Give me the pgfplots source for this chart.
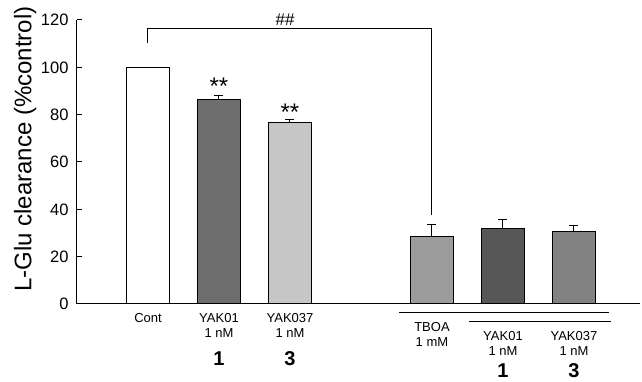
\documentclass[border=0pt]{standalone}
\usepackage{fontspec}
\setmainfont{Liberation Sans}
\usepackage{pgfplots}
\usetikzlibrary{calc}
\pgfplotsset{compat=1.18}
\definecolor{cA}{HTML}{FFFFFF}
\definecolor{cB}{HTML}{6E6E6E}
\definecolor{cC}{HTML}{C6C6C6}
\definecolor{cD}{HTML}{9C9C9C}
\definecolor{cE}{HTML}{575757}
\definecolor{cF}{HTML}{828282}
\begin{document}
\begin{tikzpicture}
\path[use as bounding box] (-77pt,-78pt) rectangle (565pt,304pt);
\begin{axis}[
  at={(0pt,0pt)}, anchor=south west,
  scale only axis, width=563pt, height=284pt,
  xmin=-1, xmax=6.93, ymin=0, ymax=120,
  axis x line*=bottom, axis y line*=left,
  axis line style={line width=1pt, -},
  xtick=\empty,
  ytick={0,20,40,60,80,100,120},
  tick align=inside, major tick length=5pt,
  tick style={line width=1pt, black},
  /pgf/number format/assume math mode=true,
  yticklabel style={font=\fontsize{16.5}{18}\selectfont, xshift=-5pt},
  ylabel={L-Glu clearance (\%control)},
  every axis y label/.style={at={(axis description cs:-0.092,0.545)}, rotate=90, anchor=center, font=\fontsize{24}{26}\selectfont},
  clip=false,
  error bars/error bar style={line width=1pt, black},
  error bars/error mark options={line width=1pt, mark size=4.5pt, rotate=90, black},
]
\addplot[ybar, bar width=0.6, bar shift=0pt, draw=black, line width=1pt, fill=cA] coordinates {(0,100)};
\addplot[ybar, bar width=0.6, bar shift=0pt, draw=black, line width=1pt, fill=cB,
  error bars/.cd, y dir=plus, y explicit] coordinates {(1,86.2) +- (0,1.9)};
\addplot[ybar, bar width=0.6, bar shift=0pt, draw=black, line width=1pt, fill=cC,
  error bars/.cd, y dir=plus, y explicit] coordinates {(2,76.6) +- (0,1.4)};
\addplot[ybar, bar width=0.6, bar shift=0pt, draw=black, line width=1pt, fill=cD,
  error bars/.cd, y dir=plus, y explicit] coordinates {(4,28.4) +- (0,5.3)};
\addplot[ybar, bar width=0.6, bar shift=0pt, draw=black, line width=1pt, fill=cE,
  error bars/.cd, y dir=plus, y explicit] coordinates {(5,32.0) +- (0,3.5)};
\addplot[ybar, bar width=0.6, bar shift=0pt, draw=black, line width=1pt, fill=cF,
  error bars/.cd, y dir=plus, y explicit] coordinates {(6,30.5) +- (0,2.5)};
% significance bracket
\addplot[black, line width=1pt, sharp plot, mark=none] coordinates {(0,110.2) (0,116.2) (4,116.2) (4,37.6)};
\node[anchor=base, font=\fontsize{17}{19}\selectfont] at (axis cs:1.93,117.8) {\#\#};
\node[anchor=base, font=\fontsize{24}{26}\selectfont] at (axis cs:1,88.7) {**};
\node[anchor=base, font=\fontsize{24}{26}\selectfont] at (axis cs:2,77.7) {**};
% lines under right group
\draw[line width=1pt] ($(axis cs:3.54,0)+(0pt,-8.7pt)$) -- ($(axis cs:6.49,0)+(0pt,-8.7pt)$);
\draw[line width=1pt] ($(axis cs:4.52,0)+(0pt,-17.7pt)$) -- ($(axis cs:6.52,0)+(0pt,-17.7pt)$);
% category labels
\tikzset{lab/.style={anchor=base, inner sep=0pt, font=\fontsize{13}{15}\selectfont},
         num/.style={anchor=base, inner sep=0pt, font=\fontsize{20}{22}\selectfont\bfseries}}
\node[lab] at ($(axis cs:0,0)+(0pt,-18.5pt)$) {Cont};
\node[lab] at ($(axis cs:1,0)+(0pt,-18.5pt)$) {YAK01};
\node[lab] at ($(axis cs:1,0)+(0pt,-34pt)$) {1 nM};
\node[lab] at ($(axis cs:2,0)+(0pt,-18.5pt)$) {YAK037};
\node[lab] at ($(axis cs:2,0)+(0pt,-34pt)$) {1 nM};
\node[num] at ($(axis cs:1,0)+(0pt,-62pt)$) {1};
\node[num] at ($(axis cs:2,0)+(0pt,-62pt)$) {3};
\node[lab] at ($(axis cs:4,0)+(0pt,-27.5pt)$) {TBOA};
\node[lab] at ($(axis cs:4,0)+(0pt,-42.5pt)$) {1 mM};
\node[lab] at ($(axis cs:5,0)+(0pt,-36.5pt)$) {YAK01};
\node[lab] at ($(axis cs:5,0)+(0pt,-52pt)$) {1 nM};
\node[lab] at ($(axis cs:6,0)+(0pt,-36.5pt)$) {YAK037};
\node[lab] at ($(axis cs:6,0)+(0pt,-52pt)$) {1 nM};
\node[num] at ($(axis cs:5,0)+(0pt,-74pt)$) {1};
\node[num] at ($(axis cs:6,0)+(0pt,-74pt)$) {3};
\end{axis}
\end{tikzpicture}
\end{document}
